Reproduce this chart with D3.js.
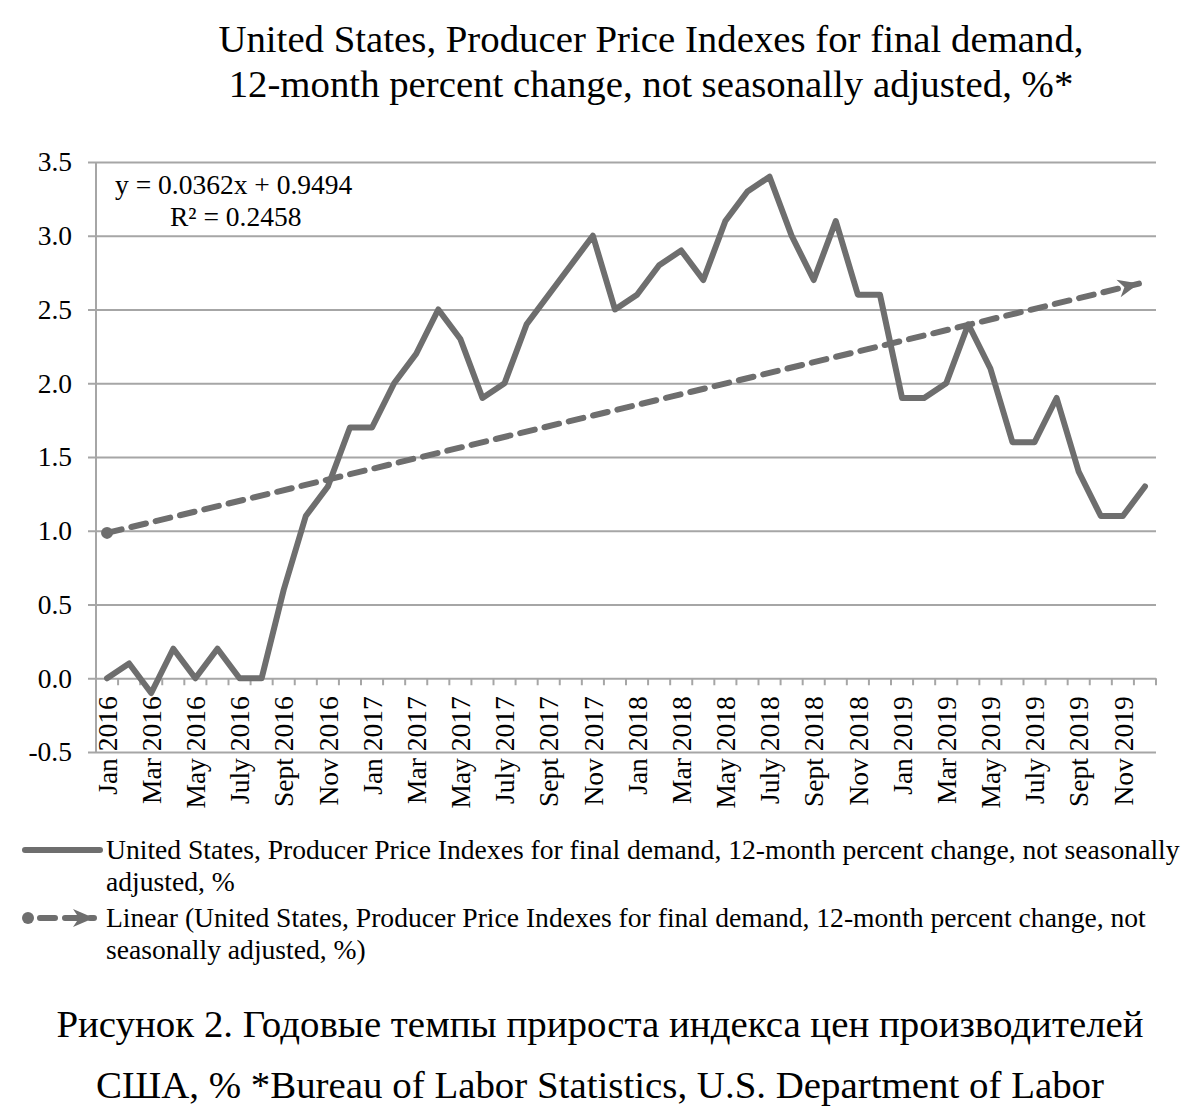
<!DOCTYPE html>
<html>
<head>
<meta charset="utf-8">
<script src="https://cdn.jsdelivr.net/npm/d3@7"></script>
<style>
  html, body { margin: 0; padding: 0; background: #ffffff; }
  svg { display: block; }
  text { font-family: "Liberation Serif", "Times New Roman", serif; fill: #000; }
</style>
</head>
<body>
<svg id="chart" width="1189" height="1118"></svg>
<script>
// ---- Data ----
const months = ["Jan","Feb","Mar","Apr","May","June","July","Aug","Sept","Oct","Nov","Dec"];
const years = [2016, 2017, 2018, 2019];
const categories = [];
years.forEach(y => months.forEach(m => categories.push(m + " " + y)));

const values2016 = [0.0, 0.1, -0.1, 0.2, 0.0, 0.2, 0.0, 0.0, 0.6, 1.1, 1.3, 1.7];
const values2017 = [1.7, 2.0, 2.2, 2.5, 2.3, 1.9, 2.0, 2.4, 2.6, 2.8, 3.0, 2.5];
const values2018 = [2.6, 2.8, 2.9, 2.7, 3.1, 3.3, 3.4, 3.0, 2.7, 3.1, 2.6, 2.6];
const values2019 = [1.9, 1.9, 2.0, 2.4, 2.1, 1.6, 1.6, 1.9, 1.4, 1.1, 1.1, 1.3];
const seriesValues = [].concat(values2016, values2017, values2018, values2019);

const yTicks = [-0.5, 0.0, 0.5, 1.0, 1.5, 2.0, 2.5, 3.0, 3.5];
const xTickLabels = categories.filter((c, i) => i % 2 === 0);

const titleLines = [
  "United States, Producer Price Indexes for final demand,",
  "12-month percent change, not seasonally adjusted, %*"
];
const equationLines = ["y = 0.0362x + 0.9494", "R² = 0.2458"];
const legendSeries = ["United States, Producer Price Indexes for final demand, 12-month percent change, not seasonally", "adjusted, %"];
const legendTrend = ["Linear (United States, Producer Price Indexes for final demand, 12-month percent change, not", "seasonally adjusted, %)"];
const captionLines = [
  "Рисунок 2. Годовые темпы прироста индекса цен производителей",
  "США, % *Bureau of Labor Statistics, U.S. Department of Labor"
];

// ---- Layout ----
const svg = d3.select("#chart");
const plotLeft = 96, plotRight = 1156, gridLeft = 88;
const plotTop = 162, plotBottom = 752;
const lineColor = "#6e6e6e";
const gridColor = "#a6a6a6";

const x = d3.scaleBand().domain(categories).range([plotLeft, plotRight]).padding(0);
const y = d3.scaleLinear().domain([-0.5, 3.5]).range([plotBottom, plotTop]);
const cx = c => x(c) + x.bandwidth() / 2;

// Title
svg.append("g").selectAll("text").data(titleLines).join("text")
  .attr("x", 651).attr("y", (d, i) => 52 + i * 45)
  .attr("text-anchor", "middle").style("font-size", "38.8px").text(d => d);

// Y axis gridlines + labels
const fmt = d3.format(".1f");
const yAxis = d3.axisLeft(y).tickValues(yTicks).tickFormat(d => fmt(d).replace("−", "-"))
  .tickSizeInner(-(plotRight - gridLeft)).tickSizeOuter(0).tickPadding(16);
const gy = svg.append("g").attr("transform", `translate(${gridLeft},0)`).call(yAxis);
gy.select(".domain").remove();
gy.selectAll(".tick line").attr("stroke", gridColor).attr("stroke-width", 2);
gy.selectAll(".tick text").style("font-size", "27.5px").style("font-family", "Liberation Serif");

// vertical axis line
svg.append("line").attr("x1", plotLeft).attr("x2", plotLeft)
  .attr("y1", y(3.5)).attr("y2", y(-0.5)).attr("stroke", gridColor).attr("stroke-width", 2);

// X axis at y=0 with boundary ticks
const y0 = y(0);
svg.append("g").selectAll("line").data(d3.range(categories.length + 1)).join("line")
  .attr("x1", i => plotLeft + i * x.step()).attr("x2", i => plotLeft + i * x.step())
  .attr("y1", y0).attr("y2", y0 + 7).attr("stroke", gridColor).attr("stroke-width", 2);

const xAxis = d3.axisBottom(x).tickValues(xTickLabels).tickSize(0);
const gx = svg.append("g").attr("transform", `translate(0,${y0})`).call(xAxis);
gx.select(".domain").remove();
gx.selectAll(".tick text")
  .attr("transform", "rotate(-90)")
  .attr("x", -18).attr("y", 0).attr("dy", "0.35em")
  .attr("text-anchor", "end")
  .style("font-size", "27.5px").style("font-family", "Liberation Serif");

// Trend (least squares on data, x = 1..n)
const n = seriesValues.length;
const xs = d3.range(1, n + 1);
const mx = d3.mean(xs), my = d3.mean(seriesValues);
const slope = d3.sum(xs, (xi, i) => (xi - mx) * (seriesValues[i] - my)) / d3.sum(xs, xi => (xi - mx) ** 2);
const intercept = my - slope * mx;
const trendStart = intercept + slope * 1, trendEnd = intercept + slope * n;

const defs = svg.append("defs");
defs.append("marker").attr("id", "stealth").attr("markerUnits", "userSpaceOnUse")
  .attr("viewBox", "-22 -10 24 20").attr("refX", 0).attr("refY", 0)
  .attr("markerWidth", 24).attr("markerHeight", 20).attr("orient", "auto")
  .append("path").attr("d", "M0,0 L-21,-9 L-15,0 L-21,9 Z").attr("fill", lineColor);

const x1t = cx(categories[0]), x2t = cx(categories[n - 1]);
svg.append("line")
  .attr("x1", x1t).attr("y1", y(trendStart)).attr("x2", x2t - 6).attr("y2", y(trendStart + (trendEnd - trendStart) * (x2t - 6 - x1t) / (x2t - x1t)))
  .attr("stroke", lineColor).attr("stroke-width", 6).attr("stroke-dasharray", "15 10")
  .attr("stroke-linecap", "round").attr("marker-end", "url(#stealth)");
svg.append("circle").attr("cx", x1t).attr("cy", y(trendStart)).attr("r", 6).attr("fill", lineColor);

// Main series line
const line = d3.line().x((d, i) => cx(categories[i])).y(d => y(d));
svg.append("path").datum(seriesValues).attr("d", line)
  .attr("fill", "none").attr("stroke", lineColor).attr("stroke-width", 6)
  .attr("stroke-linejoin", "round").attr("stroke-linecap", "round");

// Equation
svg.append("g").selectAll("text").data(equationLines).join("text")
  .attr("x", (d, i) => i === 0 ? 115 : 170).attr("y", (d, i) => 194 + i * 32)
  .style("font-size", "27.5px").text(d => d);

// Legend
const lg = svg.append("g");
lg.append("line").attr("x1", 25).attr("x2", 100).attr("y1", 850).attr("y2", 850)
  .attr("stroke", lineColor).attr("stroke-width", 6).attr("stroke-linecap", "round");
lg.selectAll("text.l1").data(legendSeries).join("text").attr("class", "l1")
  .attr("x", 106).attr("y", (d, i) => 859 + i * 32).style("font-size", "27.6px").text(d => d);
lg.append("circle").attr("cx", 28).attr("cy", 918).attr("r", 6).attr("fill", lineColor);
lg.append("line").attr("x1", 40).attr("x2", 94).attr("y1", 918).attr("y2", 918)
  .attr("stroke", lineColor).attr("stroke-width", 6).attr("stroke-dasharray", "15 10")
  .attr("stroke-linecap", "round").attr("marker-end", "url(#stealth)");
lg.selectAll("text.l2").data(legendTrend).join("text").attr("class", "l2")
  .attr("x", 106).attr("y", (d, i) => 927 + i * 32).style("font-size", "27.6px").text(d => d);

// Caption
svg.append("g").selectAll("text").data(captionLines).join("text")
  .attr("x", 600).attr("y", (d, i) => 1037 + i * 61)
  .attr("text-anchor", "middle").style("font-size", "38.9px").text(d => d);
</script>
</body>
</html>
